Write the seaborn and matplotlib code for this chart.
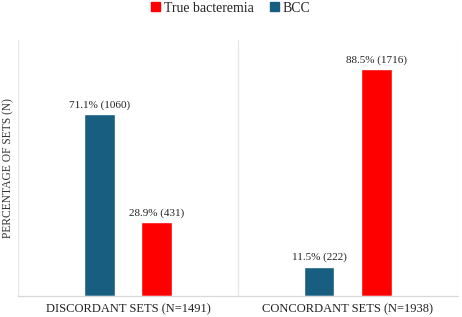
import pandas as pd
import seaborn as sns
import matplotlib.pyplot as plt

groups = ["DISCORDANT SETS (N=1491)", "CONCORDANT SETS (N=1938)"]
series = ["BCC", "True bacteremia"]
bcc_pct = [71.1, 11.5]
bcc_n = [1060, 222]
true_pct = [28.9, 88.5]
true_n = [431, 1716]

colors = {"BCC": "#185E80", "True bacteremia": "#FF0000"}

dt = pd.DataFrame(
    {
        "group": groups * 2,
        "series": ["BCC"] * 2 + ["True bacteremia"] * 2,
        "pct": bcc_pct + true_pct,
        "n": bcc_n + true_n,
    }
)

sns.set_style("white")
plt.rcParams["font.family"] = ["Liberation Serif", "DejaVu Serif"]

fig = plt.figure(figsize=(4.62, 3.17), dpi=100)
ax = fig.add_axes([0.039, 0.066, 0.952, 0.808])

sns.barplot(
    data=dt, x="group", y="pct", hue="series", order=groups, hue_order=series,
    palette=colors, width=0.52, gap=0.47, saturation=1, ax=ax, legend=False,
)

for cont, s in zip(ax.containers, series):
    sub = dt[dt["series"] == s].set_index("group").loc[groups]
    labels = [f"{p}% ({n})" for p, n in zip(sub["pct"], sub["n"])]
    ax.bar_label(cont, labels=labels, padding=3, fontsize=8, color="#222222")

ax.set_xlim(-0.5, 1.5)
ax.set_ylim(0, 100)
for x in [-0.5, 0.5, 1.5]:
    ax.axvline(x, color="#e6e6e6", lw=0.9, zorder=0)
for sp in ["left", "right", "top"]:
    ax.spines[sp].set_visible(False)
ax.spines["bottom"].set_color("#d9d9d9")
ax.spines["bottom"].set_linewidth(0.9)
ax.set_yticks([])
ax.set_xlabel("")
ax.set_ylabel("PERCENTAGE OF SETS (N)", fontsize=8.3, color="#333333", labelpad=3)
ax.tick_params(axis="x", length=0, pad=5, labelsize=9, labelcolor="#222222")

handles = [plt.Rectangle((0, 0), 1, 1, color=colors[s]) for s in ["True bacteremia", "BCC"]]
fig.legend(
    handles, ["True bacteremia", "BCC"], loc="center", bbox_to_anchor=(0.5, 0.974),
    ncol=2, frameon=False, fontsize=10, handlelength=0.6, handleheight=0.6,
    handletextpad=0.3, columnspacing=1.2,
)

plt.savefig("out.png", dpi=100)
